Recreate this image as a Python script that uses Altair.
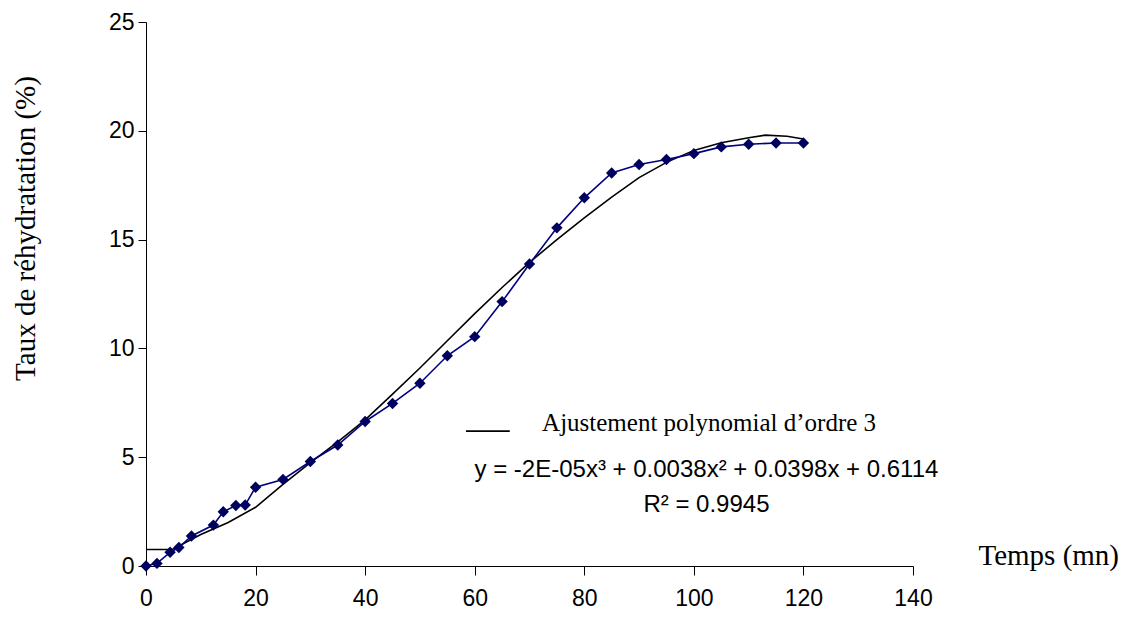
import altair as alt
import pandas as pd

# Measured data (blue)
temps = [0, 2, 4.4, 6, 8.3, 12.3, 14.1, 16.4, 18.1, 20, 25, 30, 35, 40, 45, 50,
         55, 60, 65, 70, 75, 80, 85, 90, 95, 100, 105, 110, 115, 120]
taux = [0.0, 0.12, 0.63, 0.85, 1.38, 1.88, 2.49, 2.78, 2.8, 3.62, 3.98, 4.8, 5.56, 6.64, 7.47, 8.4,
        9.66, 10.54, 12.15, 13.88, 15.54, 16.92, 18.06, 18.45, 18.68, 18.95, 19.26, 19.38, 19.44, 19.44]

# Fitted trend line (black)
fit_x = [0, 4.8, 10, 15, 20, 25, 30, 35, 40, 45, 50, 55, 60, 65, 70, 75, 80, 85, 90, 95,
         100, 105, 110, 113, 117, 120]
fit_y = [0.76, 0.76, 1.45, 2.0, 2.7, 3.75, 4.75, 5.7, 6.72, 7.9, 9.1, 10.35, 11.6, 12.8, 13.95,
         15.0, 16.0, 16.95, 17.85, 18.55, 19.1, 19.45, 19.68, 19.8, 19.75, 19.62]

legend_text = "Ajustement polynomial d\u2019ordre 3"
equation_text = "y = -2E-05x\u00b3 + 0.0038x\u00b2 + 0.0398x + 0.6114"
r2_text = "R\u00b2 = 0.9945"

W, H = 767, 544

xscale = alt.Scale(domain=[0, 140], nice=False, zero=False)
yscale = alt.Scale(domain=[0, 25], nice=False, zero=False)

df = pd.DataFrame({"t": temps, "v": taux})
fit = pd.DataFrame({"t": fit_x, "v": fit_y})

xaxis = alt.Axis(values=[0, 20, 40, 60, 80, 100, 120, 140], grid=False, tickSize=9,
                 domainColor="black", tickColor="black", labelFont="Liberation Sans",
                 labelFontSize=23, labelColor="black", labelPadding=12, labelFlush=False,
                 title="Temps (mn)", titleFont="Liberation Serif", titleFontSize=29,
                 titleFontWeight="normal", titleColor="black", titleX=832, titleY=-11,
                 titleAlign="left", titleBaseline="middle", titleAnchor="start")
yaxis = alt.Axis(values=[0, 5, 10, 15, 20, 25], grid=False, tickSize=8,
                 domainColor="black", tickColor="black", labelFont="Liberation Sans",
                 labelFontSize=23, labelColor="black", labelPadding=4, labelFlush=False,
                 title="Taux de r\u00e9hydratation (%)", titleFont="Liberation Serif",
                 titleFontSize=29, titleFontWeight="normal", titleColor="black",
                 titleX=-121, titleY=206, titleAlign="center", titleBaseline="middle",
                 titleAngle=270)

fit_line = alt.Chart(fit).mark_line(color="black", strokeWidth=1.6, interpolate="linear").encode(
    x=alt.X("t:Q", scale=xscale, axis=xaxis),
    y=alt.Y("v:Q", scale=yscale, axis=yaxis),
)

data_line = alt.Chart(df).mark_line(color="#000080", strokeWidth=1.6).encode(
    x=alt.X("t:Q", scale=xscale), y=alt.Y("v:Q", scale=yscale)
)
data_pts = alt.Chart(df).mark_point(shape="diamond", filled=True, color="#00005e", size=130, opacity=1).encode(
    x=alt.X("t:Q", scale=xscale), y=alt.Y("v:Q", scale=yscale)
)

leg_line = alt.Chart(pd.DataFrame({"t": [58.4], "t2": [66.4], "v": [6.2]})).mark_rule(
    color="black", strokeWidth=1.6).encode(
    x=alt.X("t:Q", scale=xscale), x2="t2:Q", y=alt.Y("v:Q", scale=yscale))

leg_txt = alt.Chart(pd.DataFrame({"t": [72.3], "v": [6.58], "s": [legend_text]})).mark_text(
    font="Liberation Serif", fontSize=25, align="left", baseline="middle", color="black").encode(
    x=alt.X("t:Q", scale=xscale), y=alt.Y("v:Q", scale=yscale), text="s:N")

eq_txt = alt.Chart(pd.DataFrame({"t": [102.3, 102.3], "v": [4.43, 2.82], "s": [equation_text, r2_text]})).mark_text(
    font="Liberation Sans", fontSize=24, align="center", baseline="middle", color="black").encode(
    x=alt.X("t:Q", scale=xscale), y=alt.Y("v:Q", scale=yscale), text="s:N")

chart = alt.layer(fit_line, data_line, data_pts, leg_line, leg_txt, eq_txt).properties(
    width=W, height=H, background="white",
    padding={"left": 146, "top": 22, "right": 225, "bottom": 55},
    autosize=alt.AutoSizeParams(type="none"),
).configure_view(stroke=None, strokeWidth=0)

chart.save("out.html", embed_options={"renderer": "svg", "actions": False})
